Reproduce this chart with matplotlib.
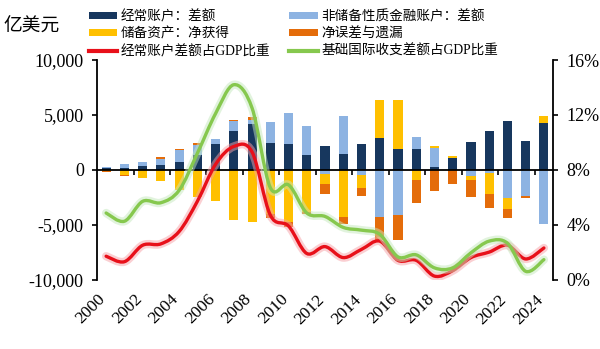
import numpy as np
import matplotlib
matplotlib.use("Agg")
import matplotlib.pyplot as plt
from matplotlib.path import Path
from matplotlib.patches import PathPatch
from matplotlib.lines import Line2D
import matplotlib.patheffects as pe

years = list(range(2000, 2025))
ca = [205, 174, 354, 431, 689, 1324, 2318, 3532, 4206, 2433, 2378, 1361, 2154,
      1482, 2360, 2930, 1913, 1887, 241, 1029, 2488, 3529, 4431, 2642, 4224]
fin = [20, 348, 323, 549, 1082, 912, 453, 911, 371, 1945, 2822, 2600, -360,
       3430, -514, -4345, -4161, 1095, 1727, 73, -611, -270, -2560, -2410, -4910]
res = [-105, -473, -755, -1060, -1850, -2450, -2848, -4607, -4795, -4003, -4717,
       -3878, -966, -4314, -1178, 3429, 4437, -915, 189, 193, -280, -1930, -1000,
       0, 720]
eo = [-119, -49, 78, 184, 130, 229, 36, 133, 189, -414, -529, -138, -871, -629,
      -669, -2050, -2230, -2100, -1900, -1290, -1600, -1300, -850, -180, 0]
ca_gdp = [1.7, 1.3, 2.5, 2.6, 3.5, 5.7, 8.4, 9.7, 9.3, 4.7, 3.9, 1.9, 2.4, 1.6,
          2.2, 2.8, 1.4, 1.4, 0.25, 0.65, 1.6, 2.0, 2.5, 1.5, 2.3]
basic_gdp = [4.85, 4.25, 5.7, 5.6, 6.5, 9.2, 12.1, 14.2, 12.5, 6.7, 6.9, 4.85,
             4.6, 3.8, 3.6, 3.3, 1.65, 1.8, 0.85, 0.85, 1.95, 2.8, 2.65, 0.6, 1.45]

bar_labels = ["经常账户：差额", "非储备性质金融账户：差额", "储备资产：净获得", "净误差与遗漏"]
line_labels = ["经常账户差额占GDP比重", "基础国际收支差额占GDP比重"]
bar_colors = ["#17375E", "#8DB3E2", "#FFC000", "#E46C0A"]
line_colors = ["#E8101A", "#86C84E"]
glow_colors = ["#F7A0A6", "#C4E8BC"]

NUM_FONT = "Liberation Serif"
MIX = ["Liberation Serif", "Noto Sans CJK SC"]

fig = plt.figure(figsize=(6.0, 3.49), dpi=100)
ax = fig.add_axes([0.1617, 0.199, 0.76, 0.629])
x = np.arange(len(years))

pos_base = np.zeros(len(years))
neg_base = np.zeros(len(years))
bar_handles = []
for vals, col, lab in zip([ca, fin, res, eo], bar_colors, bar_labels):
    v = np.array(vals, dtype=float)
    bottoms = np.where(v >= 0, pos_base, neg_base)
    b = ax.bar(x, v, bottom=bottoms, width=0.5, color=col, label=lab, zorder=2)
    bar_handles.append(b)
    pos_base = pos_base + np.where(v >= 0, v, 0)
    neg_base = neg_base + np.where(v < 0, v, 0)

ax.set_xlim(-0.5, len(years) - 0.5)
ax.set_ylim(-10000, 10000)
ax.set_yticks([-10000, -5000, 0, 5000, 10000])
ax.set_yticklabels([f"{v:,}" for v in [-10000, -5000, 0, 5000, 10000]],
                   fontfamily=NUM_FONT, fontsize=13)
ax.spines["top"].set_visible(False)
ax.spines["right"].set_visible(False)
ax.spines["bottom"].set_position(("data", 0))
ax.spines["bottom"].set_linewidth(1.3)
ax.spines["bottom"].set_zorder(5)
ax.spines["left"].set_linewidth(1.3)
ax.tick_params(axis="y", direction="out", length=3.5, width=1.2, pad=6)
ax.set_xticks(np.arange(1.5, len(years) - 0.5, 2))
ax.tick_params(axis="x", direction="out", length=3.5, width=1.2, labelbottom=False)

for i in range(0, len(years), 2):
    ax.annotate(str(years[i]), xy=(i, 0), xycoords=("data", "axes fraction"),
                xytext=(2.0, -8.5), textcoords="offset points", rotation=45,
                ha="right", va="top", fontfamily=NUM_FONT, fontsize=12.5)

ax2 = ax.twinx()
ax2.set_ylim(0, 16)
ax2.set_yticks([0, 4, 8, 12, 16])
ax2.set_yticklabels([f"{v}%" for v in [0, 4, 8, 12, 16]], fontfamily=NUM_FONT,
                    fontsize=13)
for s in ["top", "left", "bottom"]:
    ax2.spines[s].set_visible(False)
ax2.spines["right"].set_linewidth(1.3)
ax2.tick_params(axis="y", direction="out", length=3.5, width=1.2, pad=6)


def smooth_path(xs, ys):
    pts = np.column_stack([xs, ys]).astype(float)
    n = len(pts)
    verts = [pts[0]]
    codes = [Path.MOVETO]
    for i in range(n - 1):
        p0 = pts[i - 1] if i > 0 else pts[i]
        p1 = pts[i]
        p2 = pts[i + 1]
        p3 = pts[i + 2] if i + 2 < n else pts[i + 1]
        verts += [p1 + (p2 - p0) / 6.0, p2 - (p3 - p1) / 6.0, p2]
        codes += [Path.CURVE4] * 3
    return Path(verts, codes)


line_handles = []
for vals, col, gcol, lab in zip([ca_gdp, basic_gdp], line_colors, glow_colors,
                                line_labels):
    patch = PathPatch(smooth_path(x, vals), fill=False, edgecolor=col, lw=2.4,
                      capstyle="round", joinstyle="round", zorder=3,
                      path_effects=[pe.Stroke(linewidth=6, foreground=gcol,
                                              alpha=0.5), pe.Normal()])
    ax2.add_patch(patch)
    line_handles.append(Line2D([], [], color=col, lw=3, label=lab))

fig.text(0.005, 0.925, "亿美元", fontfamily=["Noto Sans CJK SC"], fontsize=13.5,
         ha="left", va="center")

handles = [bar_handles[0], bar_handles[2], line_handles[0],
           bar_handles[1], bar_handles[3], line_handles[1]]
labels = [h.get_label() for h in handles]
fig.legend(handles, labels, ncol=2, loc="upper left",
           bbox_to_anchor=(0.148, 0.972), frameon=False,
           prop={"family": MIX, "size": 9.8}, handlelength=2.1,
           handleheight=0.45, handletextpad=0.25, columnspacing=1.4,
           labelspacing=0.32, borderpad=0.0, borderaxespad=0.0)

fig.savefig("out.png", dpi=100)
